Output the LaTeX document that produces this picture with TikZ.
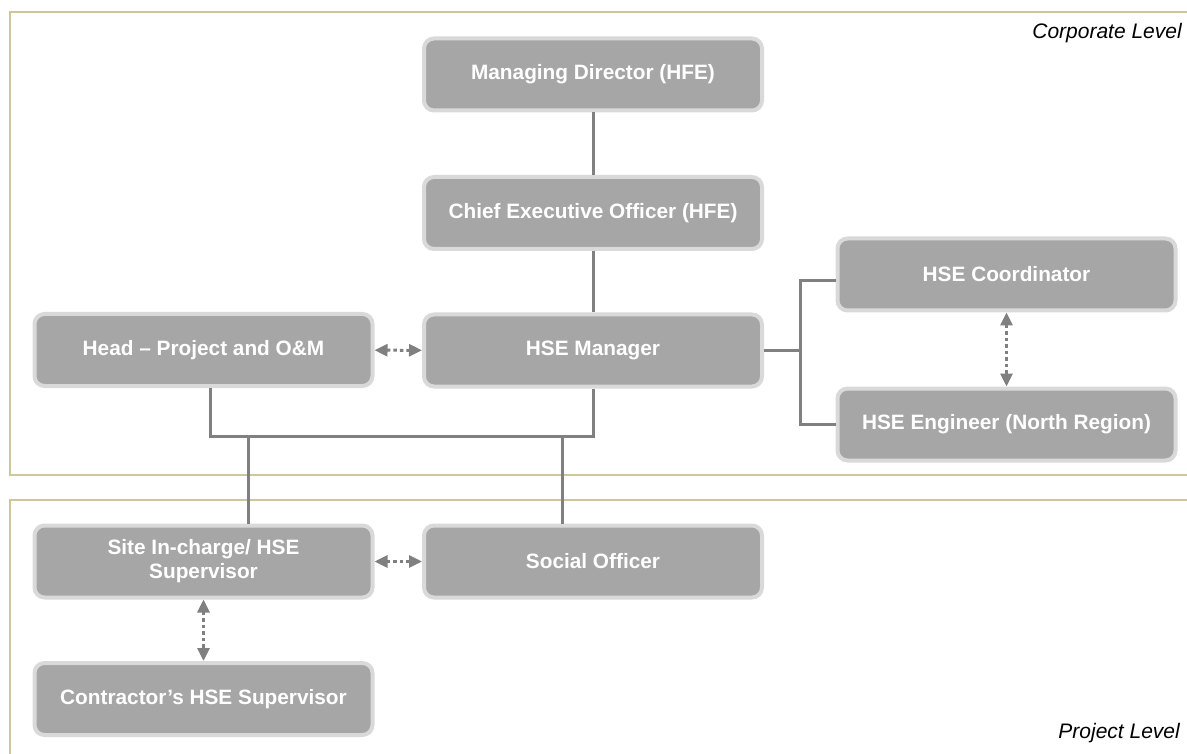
\documentclass[tikz,border=0pt]{standalone}
\usepackage{fontspec}
\setmainfont{Liberation Sans}
\usepackage{tikz}
\usetikzlibrary{arrows, arrows.meta, calc, positioning, shapes}
\definecolor{BoxFill}{RGB}{166,166,166}
\definecolor{BoxEdge}{RGB}{217,217,217}
\definecolor{LinkGray}{RGB}{128,128,128}
\definecolor{FrameTan}{RGB}{206,198,156}

\tikzset{
  role/.style={rectangle, rounded corners=10pt, fill=BoxFill, draw=BoxEdge,
    line width=4pt, minimum width=338pt, minimum height=72pt, text=white,
    align=center, font=\fontsize{20.8}{24}\selectfont\bfseries},
  link/.style={draw=LinkGray, line width=3pt},
  peer/.style={draw=LinkGray, line width=3pt, dash pattern=on 3.5pt off 3pt,
    {Triangle[length=13pt,width=12pt]}-{Triangle[length=13pt,width=12pt]}},
  frame/.style={draw=FrameTan, line width=1.2pt},
  level/.style={font=\fontsize{21}{24}\selectfont\itshape, anchor=east, inner sep=0pt}
}

\begin{document}
\begin{tikzpicture}[x=1pt, y=-1pt]
  \useasboundingbox (0,0) rectangle (1187,754);

  % corporate and project frames
  \draw [frame] (1187,12) -| (10,475) -- (1187,475);
  \draw [frame] (1187,500) -| (10,754);
  \node [level] (corp) at (1182,33) {Corporate Level};
  \node [level] (proj) at (1180,733) {Project Level};

  % corporate level
  \node [role] (md)    at (593,74.5)   {Managing Director (HFE)};
  \node [role] (ceo)   at (593,213)    {Chief Executive Officer (HFE)};
  \node [role] (hsem)  at (593,350.5)  {HSE Manager};
  \node [role] (head)  at (203.5,350)  {Head -- Project and O\&M};
  \node [role] (coord) at (1006.5,274.5) {HSE Coordinator};
  \node [role] (eng)   at (1006.5,424.5) {HSE Engineer (North Region)};

  % project level
  \node [role] (site)   at (203.5,561.5) {Site In-charge/ HSE\\Supervisor};
  \node [role] (social) at (593,561.5)   {Social Officer};
  \node [role] (contr)  at (203.5,699)   {Contractor's HSE Supervisor};

  % reporting lines
  \draw [link] (md) -- (ceo);
  \draw [link] (ceo) -- (hsem);

  \coordinate (rbus) at (800,350.5);
  \coordinate (rtop) at (800,281);
  \draw [link] (hsem.east) -- (rbus);
  \draw [link] (coord.west |- rtop) -- (rtop) |- (eng.west);

  \coordinate (hfoot) at (210,436);
  \coordinate (lbus)  at (248,436);
  \coordinate (sbus)  at (562,436);
  \draw [link] (head.south -| hfoot) -- (hfoot) -| (hsem.south);
  \draw [link] (lbus) -- (site.north -| lbus);
  \draw [link] (sbus) -- (social.north -| sbus);

  % coordination
  \draw [peer] (head) -- (hsem);
  \draw [peer] (coord) -- (eng);
  \draw [peer] (site) -- (social);
  \draw [peer] (site) -- (contr);
\end{tikzpicture}
\end{document}
